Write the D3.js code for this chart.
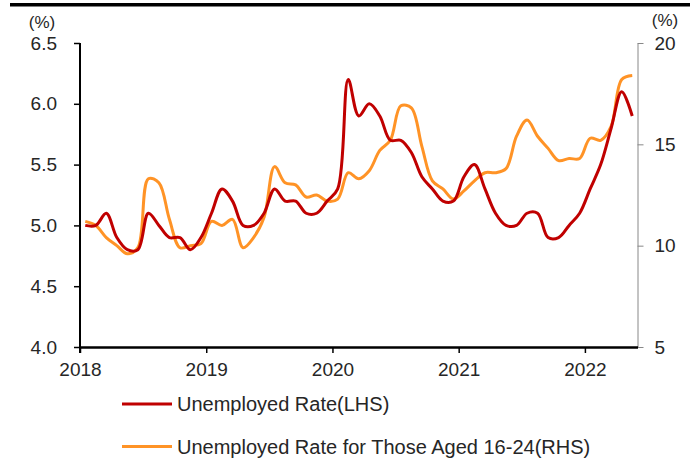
<!DOCTYPE html>
<html>
<head>
<meta charset="utf-8">
<script src="https://cdn.jsdelivr.net/npm/d3@7"></script>
<style>
  body { margin: 0; background: #fff; }
  svg text { font-family: "Liberation Sans", Arial, sans-serif; fill: #262626; }
</style>
</head>
<body>
<div id="chart"></div>
<script>
// monthly, Jan 2018 .. May 2022
const months = d3.range(53).map(i => new Date(2018, i, 1));
const yearLabels = ["2018", "2019", "2020", "2021", "2022"];

const unemployed = [
  5.0, 5.0, 5.1, 4.9, 4.8, 4.8, 5.1, 5.0, 4.9, 4.9, 4.8, 4.9,
  5.1, 5.3, 5.2, 5.0, 5.0, 5.1, 5.3, 5.2, 5.2, 5.1, 5.1, 5.2,
  5.3, 6.2, 5.9, 6.0, 5.9, 5.7, 5.7, 5.6, 5.4, 5.3, 5.2, 5.2,
  5.4, 5.5, 5.3, 5.1, 5.0, 5.0, 5.1, 5.1, 4.9, 4.9, 5.0, 5.1,
  5.3, 5.5, 5.8, 6.1, 5.9
];
const youth = [
  11.2, 11.0, 10.4, 10.0, 9.6, 9.9, 13.3, 13.1, 11.3, 9.9, 10.0, 10.1,
  11.2, 11.0, 11.3, 9.9, 10.4, 11.4, 13.9, 13.1, 13.0, 12.4, 12.5, 12.2,
  12.3, 13.6, 13.3, 13.7, 14.7, 15.2, 16.9, 16.8, 14.9, 13.2, 12.8, 12.3,
  12.7, 13.2, 13.6, 13.6, 13.8, 15.4, 16.2, 15.4, 14.8, 14.2, 14.3, 14.3,
  15.3, 15.2, 15.9, 18.2, 18.4
];

const leftTicks = [4.0, 4.5, 5.0, 5.5, 6.0, 6.5];
const rightTicks = [5, 10, 15, 20];

const W = 693, H = 466;
const plot = { left: 80, right: 637.5, top: 43, bottom: 347 };

const svg = d3.select("#chart").append("svg")
    .attr("width", W)
    .attr("height", H);

// top rule
svg.append("rect")
    .attr("x", 10).attr("y", 3)
    .attr("width", 680).attr("height", 3.5)
    .attr("fill", "#000");

const x = d3.scaleLinear()
    .domain([-0.5, months.length - 0.5])
    .range([plot.left, plot.right]);

const yL = d3.scaleLinear().domain([4, 6.5]).range([plot.bottom, plot.top]);
const yR = d3.scaleLinear().domain([5, 20]).range([plot.bottom, plot.top]);

// left axis
const gL = svg.append("g")
    .attr("transform", `translate(${plot.left},0)`)
    .call(d3.axisLeft(yL).tickValues(leftTicks).tickFormat(d3.format(".1f")).tickSize(6).tickSizeOuter(0).tickPadding(17));
gL.select(".domain").attr("stroke", "#000").attr("stroke-width", 2)
    .attr("d", `M0,${plot.top}V${plot.bottom + 6}`);
gL.selectAll(".tick line").attr("stroke", "#000").attr("stroke-width", 1.5);
gL.selectAll(".tick text").style("font-size", "19px").attr("fill", "#262626");

// right axis
const gR = svg.append("g")
    .attr("transform", `translate(${plot.right},0)`)
    .call(d3.axisRight(yR).tickValues(rightTicks).tickSize(6).tickSizeOuter(0).tickPadding(11));
gR.select(".domain").attr("stroke", "#888").attr("stroke-width", 1);
gR.selectAll(".tick line").attr("stroke", "#888");
gR.selectAll(".tick text").style("font-size", "19px").attr("fill", "#262626");

// x axis, ticks at year boundaries
const gX = svg.append("g")
    .attr("transform", `translate(0,${plot.bottom})`)
    .call(d3.axisBottom(x)
        .tickValues(yearLabels.map((_, i) => i * 12 - 0.5))
        .tickFormat((d, i) => yearLabels[i])
        .tickSize(6).tickSizeOuter(0).tickPadding(10));
gX.select(".domain").attr("stroke", "#000").attr("stroke-width", 2.5);
gX.selectAll(".tick line").attr("stroke", "#000").attr("stroke-width", 1.5);
gX.selectAll(".tick text").style("font-size", "19px").attr("fill", "#262626");

// unit labels
svg.append("text").attr("x", 42).attr("y", 28).attr("text-anchor", "middle")
    .style("font-size", "17px").text("(%)");
svg.append("text").attr("x", 665).attr("y", 26).attr("text-anchor", "middle")
    .style("font-size", "17px").text("(%)");

const lineL = d3.line()
    .x((d, i) => x(i))
    .y(d => yL(d))
    .curve(d3.curveCatmullRom.alpha(0.5));
const lineR = d3.line()
    .x((d, i) => x(i))
    .y(d => yR(d))
    .curve(d3.curveCatmullRom.alpha(0.5));

const red = "#c00000", orange = "#ff9326";

svg.append("path").datum(youth)
    .attr("d", lineR)
    .attr("fill", "none")
    .attr("stroke", orange)
    .attr("stroke-width", 3);

svg.append("path").datum(unemployed)
    .attr("d", lineL)
    .attr("fill", "none")
    .attr("stroke", red)
    .attr("stroke-width", 3);

// legend
const legend = [
    { label: "Unemployed Rate(LHS)", color: red, y: 404 },
    { label: "Unemployed Rate for Those Aged 16-24(RHS)", color: orange, y: 446.5 }
];
const lg = svg.append("g").selectAll("g").data(legend).enter().append("g");
lg.append("line")
    .attr("x1", 122).attr("x2", 172)
    .attr("y1", d => d.y).attr("y2", d => d.y)
    .attr("stroke", d => d.color)
    .attr("stroke-width", 3);
lg.append("text")
    .attr("x", 177)
    .attr("y", d => d.y)
    .attr("dy", "0.35em")
    .style("font-size", "20px")
    .text(d => d.label);
</script>
</body>
</html>
